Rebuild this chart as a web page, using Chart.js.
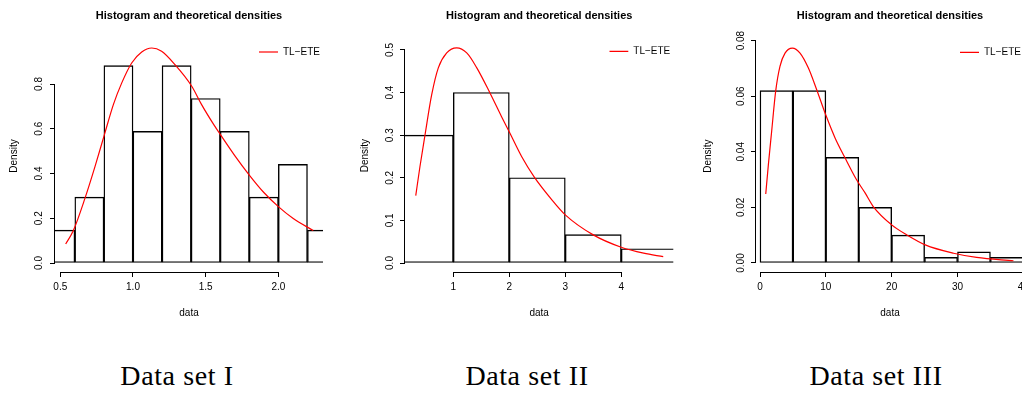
<!DOCTYPE html>
<html>
<head>
<meta charset="utf-8">
<script src="https://cdn.jsdelivr.net/npm/chart.js@4"></script>
<style>
  html, body { margin: 0; padding: 0; background: #fff; overflow: hidden; }
  body { width: 1022px; height: 394px; position: relative; }
  .panel { position: absolute; top: 0; }
  .caption {
    position: absolute; top: 362px; font-family: "Liberation Serif", serif; font-size: 28px;
    line-height: 28px; letter-spacing: 0.6px; white-space: nowrap; transform: translateX(-50%); color: #000;
  }
</style>
</head>
<body>
<div class="panel" style="left:0px"><canvas id="chart1" width="340" height="330"></canvas></div>
<div class="panel" style="left:340px"><canvas id="chart2" width="340" height="330"></canvas></div>
<div class="panel" style="left:680px"><canvas id="chart3" width="370" height="330"></canvas></div>
<div class="caption" style="left:177px">Data set I</div>
<div class="caption" style="left:527px">Data set II</div>
<div class="caption" style="left:876px">Data set III</div>
<script>
// histogram bin mids and densities, fitted curve points, ticks
const mids1 = [0.5, 0.7, 0.9, 1.1, 1.3, 1.5, 1.7, 1.9, 2.1, 2.3];
const dens1 = [0.147, 0.294, 0.882, 0.588, 0.882, 0.735, 0.588, 0.294, 0.441, 0.147];
const curveX1 = [0.537, 0.589, 0.67, 0.739, 0.803, 0.865, 0.922, 0.991, 1.06, 1.129, 1.197, 1.289, 1.404, 1.472, 1.559, 1.6, 1.7, 1.8, 1.9, 2.0, 2.1, 2.24];
const curveY1 = [0.085, 0.144, 0.29, 0.432, 0.573, 0.708, 0.804, 0.894, 0.943, 0.961, 0.946, 0.886, 0.79, 0.708, 0.615, 0.575, 0.48, 0.393, 0.315, 0.252, 0.2, 0.145];
const xTicks1 = [0.5, 1.0, 1.5, 2.0];
const xLabels1 = ["0.5", "1.0", "1.5", "2.0"];
const yTicks1 = [0, 0.2, 0.4, 0.6, 0.8];
const yLabels1 = ["0.0", "0.2", "0.4", "0.6", "0.8"];

const mids2 = [0.5, 1.5, 2.5, 3.5, 4.5];
const dens2 = [0.3, 0.4, 0.2, 0.0667, 0.0333];
const curveX2 = [0.329, 0.405, 0.495, 0.614, 0.732, 0.882, 1.06, 1.24, 1.42, 1.655, 1.86, 2.01, 2.22, 2.45, 2.75, 3.0, 3.5, 4.0, 4.4, 4.75];
const curveY2 = [0.158, 0.227, 0.301, 0.395, 0.458, 0.493, 0.505, 0.493, 0.458, 0.399, 0.344, 0.305, 0.25, 0.201, 0.15, 0.113, 0.066, 0.037, 0.023, 0.015];
const xTicks2 = [1, 2, 3, 4];
const xLabels2 = ["1", "2", "3", "4"];
const yTicks2 = [0, 0.1, 0.2, 0.3, 0.4, 0.5];
const yLabels2 = ["0.0", "0.1", "0.2", "0.3", "0.4", "0.5"];

const mids3 = [2.5, 7.5, 12.5, 17.5, 22.5, 27.5, 32.5, 37.5];
const dens3 = [0.062, 0.062, 0.038, 0.02, 0.01, 0.002, 0.004, 0.002];
const curveX3 = [0.87, 1.27, 1.77, 2.38, 3.04, 3.8, 4.91, 6.08, 7.35, 8.61, 9.98, 11.4, 12.85, 14.6, 15.96, 17.2, 20.0, 22.3, 25.1, 29.4, 32.9, 38.5];
const curveY3 = [0.0248, 0.0354, 0.0474, 0.0618, 0.0708, 0.0755, 0.0773, 0.0755, 0.0701, 0.0623, 0.0533, 0.045, 0.0381, 0.0302, 0.0252, 0.0203, 0.0137, 0.0101, 0.0065, 0.0035, 0.002, 0.0008];
const xTicks3 = [0, 10, 20, 30, 40];
const xLabels3 = ["0", "10", "20", "30", "40"];
const yTicks3 = [0, 0.02, 0.04, 0.06, 0.08];
const yLabels3 = ["0.00", "0.02", "0.04", "0.06", "0.08"];

const FONT = "'Liberation Sans', Arial, sans-serif";

// R style axes: line only from first to last tick, legend tucked in top right of the plot
const rAxes = {
  id: "rAxes",
  afterLayout(chart) {
    const lg = chart.legend;
    const ca = chart.chartArea;
    lg.left = ca.right - 64;
    lg.right = lg.left + lg.width;
    lg.top = ca.top + 7;
    lg.bottom = ca.bottom;
  },
  afterDraw(chart) {
    const { ctx, scales: { x, y } } = chart;
    ctx.save();
    ctx.strokeStyle = "#000";
    ctx.lineWidth = 1;
    ctx.beginPath();
    const yy = Math.round(x.top) + 0.5;
    ctx.moveTo(x.getPixelForValue(x.ticks[0].value), yy);
    ctx.lineTo(x.getPixelForValue(x.ticks[x.ticks.length - 1].value), yy);
    const xx = Math.round(y.right) - 0.5;
    ctx.moveTo(xx, y.getPixelForValue(y.ticks[0].value));
    ctx.lineTo(xx, y.getPixelForValue(y.ticks[y.ticks.length - 1].value));
    ctx.stroke();
    ctx.restore();
  },
};

function plotPanel(id, d, L) {
  new Chart(document.getElementById(id), {
    type: "bar",
    data: {
      datasets: [
        {
          type: "line",
          label: "TL\u2212ETE",
          data: d.cx.map((x, i) => ({ x, y: d.cy[i] })),
          borderColor: "#ff0000",
          borderWidth: 1.2,
          pointRadius: 0,
          cubicInterpolationMode: "monotone",
          order: 0,
        },
        {
          label: "hist",
          data: d.mids.map((x, i) => ({ x, y: d.dens[i] })),
          backgroundColor: "rgba(0,0,0,0)",
          borderColor: "#000",
          borderWidth: 0.7,
          inflateAmount: 0.35,
          borderSkipped: false,
          barPercentage: 1,
          categoryPercentage: 1,
          clip: 0,
          order: 1,
        },
      ],
    },
    options: {
      responsive: false,
      animation: false,
      layout: { padding: { left: 0, right: L.padRight, top: 0, bottom: 0 } },
      plugins: {
        title: {
          display: true,
          text: "Histogram and theoretical densities",
          fullSize: false,
          color: "#000",
          font: { family: FONT, size: 11, weight: "bold" },
          padding: { top: 9.4, bottom: L.titleGap },
        },
        legend: {
          position: "chartArea",
          align: "start",
          labels: {
            filter: (item) => item.datasetIndex === 0,
            usePointStyle: true,
            pointStyle: "line",
            pointStyleWidth: 19,
            color: "#000",
            font: { family: FONT, size: 10 },
            padding: 0,
          },
        },
        tooltip: { enabled: false },
      },
      scales: {
        x: {
          type: "linear",
          min: L.xMin,
          max: L.xMax,
          offset: false,
          border: { display: false },
          grid: { drawOnChartArea: false, offset: false, color: "#000", tickLength: 5 },
          afterBuildTicks: (s) => { s.ticks = d.xt.map((v) => ({ value: v })); },
          afterFit: (s) => { s.height = 58; },
          ticks: {
            callback: (v, i) => d.xl[i],
            autoSkip: false,
            maxRotation: 0,
            color: "#000",
            font: { family: FONT, size: 10 },
            padding: 4,
          },
          title: {
            display: true,
            text: "data",
            color: "#000",
            font: { family: FONT, size: 10 },
            padding: { top: 0, bottom: 11 },
          },
        },
        y: {
          type: "linear",
          min: L.yMin,
          max: L.yMax,
          border: { display: false },
          grid: { drawOnChartArea: false, offset: false, color: "#000", tickLength: 5 },
          afterBuildTicks: (s) => { s.ticks = d.yt.map((v) => ({ value: v })); },
          afterFit: (s) => { s.width = L.yWidth; },
          ticks: {
            callback: (v, i) => d.yl[i],
            autoSkip: false,
            minRotation: 90,
            maxRotation: 90,
            crossAlign: "center",
            color: "#000",
            font: { family: FONT, size: 10 },
            padding: L.yTickPad,
          },
          title: {
            display: true,
            text: "Density",
            color: "#000",
            font: { family: FONT, size: 10 },
            padding: { top: L.densPad, bottom: 0 },
          },
        },
      },
    },
    plugins: [rAxes],
  });
}

plotPanel("chart1",
  { mids: mids1, dens: dens1, cx: curveX1, cy: curveY1, xt: xTicks1, xl: xLabels1, yt: yTicks1, yl: yLabels1 },
  { xMin: 0.4635, xMax: 2.307, yMin: -0.0402, yMax: 0.9967, yWidth: 55, padRight: 17, titleGap: 17.4, densPad: 8, yTickPad: 4 });
plotPanel("chart2",
  { mids: mids2, dens: dens2, cx: curveX2, cy: curveY2, xt: xTicks2, xl: xLabels2, yt: yTicks2, yl: yLabels2 },
  { xMin: 0.137, xMax: 4.93, yMin: -0.0211, yMax: 0.525, yWidth: 65, padRight: 6.7, titleGap: 16.7, densPad: 19, yTickPad: 2.5 });
plotPanel("chart3",
  { mids: mids3, dens: dens3, cx: curveX3, cy: curveY3, xt: xTicks3, xl: xLabels3, yt: yTicks3, yl: yLabels3 },
  { xMin: -0.61, xMax: 40.1, yMin: -0.00324, yMax: 0.0801, yWidth: 76, padRight: 26, titleGap: 17.7, densPad: 22.3, yTickPad: 0.5 });
</script>
</body>
</html>
